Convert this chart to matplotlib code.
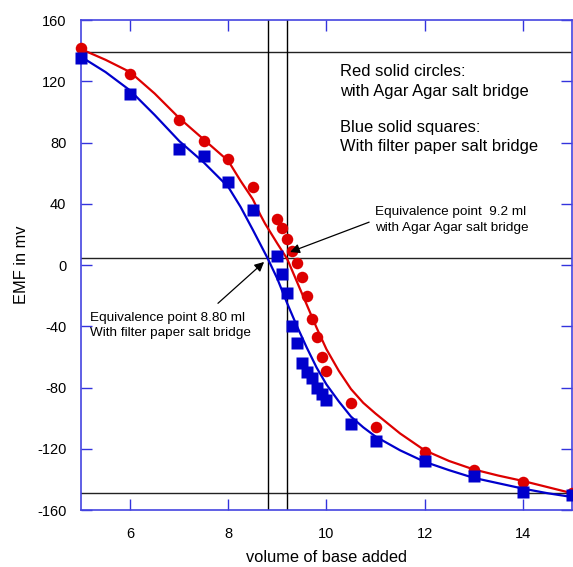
import matplotlib
matplotlib.use("Agg")
import matplotlib.pyplot as plt

plt.rcParams['font.family'] = ['Liberation Sans', 'DejaVu Sans']
plt.rcParams['axes.unicode_minus'] = False

# measured EMF (mV) against volume of base added (ml)
vol_agar = [5, 6, 7, 7.5, 8, 8.5, 9.0, 9.1, 9.2, 9.3, 9.4, 9.5, 9.6, 9.7, 9.8, 9.9, 10.0,
            10.5, 11, 12, 13, 14, 15]
emf_agar = [142, 125, 95, 81, 69, 51, 30, 24, 17, 9, 1, -8, -20, -35, -47, -60, -69,
            -90, -106, -122, -134, -142, -149]

vol_filter = [5, 6, 7, 7.5, 8, 8.5, 9.0, 9.1, 9.2, 9.3, 9.4, 9.5, 9.6, 9.7, 9.8, 9.9, 10.0,
              10.5, 11, 12, 13, 14, 15]
emf_filter = [135, 112, 76, 71, 54, 36, 6, -6, -18, -40, -51, -64, -70, -74, -80, -84, -88,
              -104, -115, -128, -138, -148, -150]

# smooth fitted curves
fit_x_agar = [5, 5.5, 6, 6.25, 6.5, 6.75, 7, 7.25, 7.5, 7.75, 8, 8.25, 8.5, 8.65, 8.75,
              9.0, 9.2, 9.4, 9.6, 9.8, 10.0, 10.25, 10.5, 10.75, 11, 11.5, 12, 12.5, 13,
              13.5, 14, 14.5, 15]
fit_y_agar = [141, 134, 126, 119, 112, 104, 96, 89, 82, 75, 68, 55, 43, 33, 27,
              14, 4, -11, -26, -41, -55, -69, -81, -90, -97, -110, -121, -128, -133.5,
              -137.5, -141, -145, -149]

fit_x_filter = [5, 5.5, 6, 6.25, 6.5, 6.75, 7, 7.25, 7.5, 7.75, 8, 8.25, 8.5, 8.8, 9.0,
                9.2, 9.4, 9.6, 9.8, 10.0, 10.25, 10.5, 10.75, 11, 11.5, 12, 12.5, 13,
                13.5, 14, 14.5, 15]
fit_y_filter = [136, 126, 114, 106, 98, 89.5, 81, 74, 67, 59, 51, 38, 23, 4.5, -9,
                -25, -40, -54, -67, -78, -89, -99, -106, -112, -121, -128.5, -134, -139,
                -142.5, -146, -149, -151.5]

# reference lines
h_lines = [139, 4.5, -149]
v_lines = [8.8, 9.2]

red = '#dd0000'
blue = '#0000cc'

fig = plt.figure(figsize=(5.73, 5.67), dpi=100)
ax = fig.add_axes([0.1414, 0.1005, 0.8566, 0.8642])

for y in h_lines:
    ax.axhline(y, color='#222222', lw=1.0, zorder=1)
for x in v_lines:
    ax.axvline(x, color='black', lw=1.0, zorder=1)

ax.plot(fit_x_agar, fit_y_agar, color=red, lw=1.6, zorder=2)
ax.plot(fit_x_filter, fit_y_filter, color=blue, lw=1.6, zorder=2)
ax.plot(vol_agar, emf_agar, 'o', color=red, ms=8.3, mec='none', zorder=3, clip_on=False)
ax.plot(vol_filter, emf_filter, 's', color=blue, ms=8.8, mec='none', zorder=4, clip_on=False)

ax.set_xlim(5, 15)
ax.set_ylim(-160, 160)
ax.set_xticks([6, 8, 10, 12, 14])
ax.set_yticks(range(-160, 161, 40))
ax.tick_params(direction='in', length=8, width=1, color='#3333dd', top=True, right=True,
               labelsize=10.5)
ax.tick_params(axis='x', pad=12)
ax.tick_params(axis='y', pad=10.5)
for s in ax.spines.values():
    s.set_color('#4444e0')
    s.set_linewidth(1.2)

ax.set_xlabel('volume of base added', fontsize=11.8, labelpad=7)
ax.set_ylabel('EMF in mv', fontsize=11.8, labelpad=6)

ax.text(10.27, 119.8, 'Red solid circles:\nwith Agar Agar salt bridge', fontsize=11.9,
        va='center', ha='left', linespacing=1.37)
ax.text(10.27, 83.6, 'Blue solid squares:\nWith filter paper salt bridge', fontsize=11.9,
        va='center', ha='left', linespacing=1.37)

arrow = dict(arrowstyle='-|>', color='black', lw=0.9, mutation_scale=14,
             shrinkA=0, shrinkB=0)
ax.annotate('', xy=(9.26, 8.5), xytext=(10.87, 28), arrowprops=arrow)
ax.text(10.99, 29.6, 'Equivalence point  9.2 ml\nwith Agar Agar salt bridge', fontsize=9.7,
        va='center', ha='left', linespacing=1.45)
ax.annotate('', xy=(8.73, 2), xytext=(7.79, -25), arrowprops=arrow)
ax.text(5.18, -39.5, 'Equivalence point 8.80 ml\nWith filter paper salt bridge', fontsize=9.7,
        va='center', ha='left', linespacing=1.33)

fig.savefig('out.png', dpi=100)
